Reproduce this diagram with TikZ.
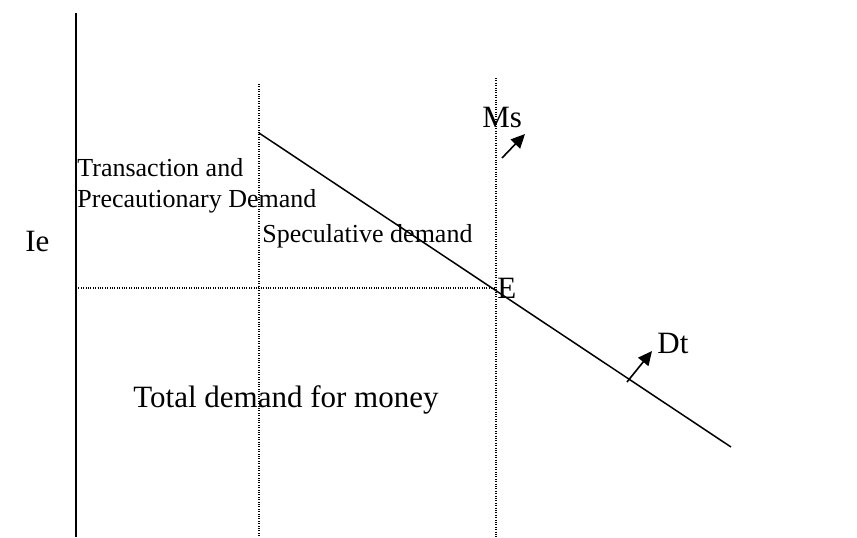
\documentclass[tikz,border=0pt]{standalone}
\usepackage{fontspec}
\setmainfont{Liberation Serif}
\usetikzlibrary{arrows.meta}

\tikzset{
  big/.style={font=\fontsize{15.5}{18}\selectfont, inner sep=0pt, anchor=base west},
  small/.style={font=\fontsize{13}{15.5}\selectfont, inner sep=0pt, anchor=base west},
  guide/.style={line width=0.6pt, dash pattern=on 0.5pt off 0.7pt},
  shiftarrow/.style={-{Triangle[length=7pt,width=6.5pt]}, line width=0.8pt}
}

\begin{document}
\begin{tikzpicture}[x=0.5pt,y=-0.5pt]
        \useasboundingbox (0,0) rectangle (857,537);

        % axis and guides
        \coordinate (axtop) at (76,13);
        \coordinate (axbot) at (76,537);
        \coordinate (g1top) at (259,84);
        \coordinate (g1bot) at (259,537);
        \coordinate (g2top) at (496,78);
        \coordinate (g2bot) at (496,537);
        \coordinate (eq) at (496,288);
        \coordinate (ieleft) at (76,288);

        \draw[line width=1pt] (axtop) -- (axbot);
        \draw[guide] (g1top) -- (g1bot);
        \draw[guide] (g2top) -- (g2bot);
        \draw[guide] (ieleft) -- (eq);

        % demand curve
        \coordinate (dtop) at (259,133);
        \coordinate (dbot) at (731,447);
        \draw[line width=0.75pt] (dtop) -- (dbot);

        % labels
        \node[big] (ie) at (25,251) {Ie};
        \node[small] (tp1) at (77,176) {Transaction and};
        \node[small] (tp2) at (77,207) {Precautionary Demand};
        \node[small] (spec) at (262,242) {Speculative demand};
        \node[big] (total) at (133,407) {Total demand for money};
        \node[big] (ms) at (482,127) {Ms};
        \node[big] (e) at (497,298) {E};
        \node[big] (dt) at (657,353) {Dt};

        % shift arrows
        \coordinate (mstail) at (502,158);
        \coordinate (mstip) at (525,134);
        \coordinate (dttail) at (627,382);
        \coordinate (dttip) at (652,351);
        \draw[shiftarrow] (mstail) -- (mstip);
        \draw[shiftarrow] (dttail) -- (dttip);
\end{tikzpicture}
\end{document}
